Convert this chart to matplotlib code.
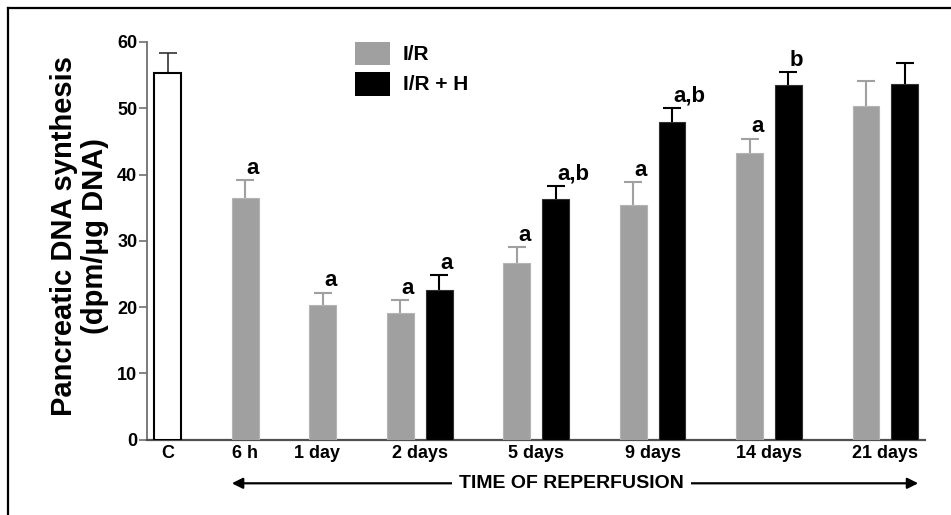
import matplotlib
matplotlib.use("Agg")
import matplotlib.pyplot as plt
import numpy as np
from matplotlib.patches import Rectangle
from matplotlib.lines import Line2D
import matplotlib.transforms as mtransforms

plt.rcParams['font.family'] = ['Liberation Sans', 'DejaVu Sans']
plt.rcParams['font.weight'] = 'bold'

# control group
ctrl_label = 'C'
ctrl_mean = 55.3
ctrl_err = 3.1

# reperfusion time points
times = ['6 h', '1 day', '2 days', '5 days', '9 days', '14 days', '21 days']
ir_mean = [36.4, 20.3, 19.1, 26.7, 35.4, 43.3, 50.3]
ir_err = [2.8, 1.9, 1.9, 2.4, 3.5, 2.1, 3.8]
irh_mean = [None, None, 22.6, 36.3, 47.9, 53.5, 53.6]
irh_err = [None, None, 2.2, 2.0, 2.2, 1.9, 3.2]
ir_sig = ['a', 'a', 'a', 'a', 'a', 'a', '']
irh_sig = ['', '', 'a', 'a,b', 'a,b', 'b', '']

GRAY = '#a0a0a0'
BW = 0.69
CAP = 6.5

fig = plt.figure(figsize=(9.51, 5.15), dpi=100)
ax = fig.add_axes([147/951, 75.3/515, 778/951, 397.8/515])

# lay out slots: single bar per group takes 2 slots, pairs take 3
ir_x, irh_x, tick_x = [], [], []
pos = 2
for m in irh_mean:
    ir_x.append(pos)
    if m is None:
        tick_x.append(pos)
        pos += 2
    else:
        irh_x.append(pos + 1)
        tick_x.append(pos + 0.5)
        pos += 3
tick_x[1] -= 0.15

# error bars are symmetric, the lower half is hidden behind the bars
# control bar
ax.bar(0, ctrl_mean, BW, color='white', edgecolor='black', linewidth=1.5, zorder=3)
ax.errorbar(0, ctrl_mean, yerr=ctrl_err, fmt='none', ecolor='#222222',
            elinewidth=1.1, capsize=CAP, capthick=1.1, zorder=2)

# I/R bars
ax.bar(ir_x, ir_mean, BW, color=GRAY, edgecolor='#b4b4b4', linewidth=0.8, zorder=3)
ax.errorbar(ir_x, ir_mean, yerr=ir_err, fmt='none',
            ecolor=GRAY, elinewidth=1.5, capsize=CAP, capthick=1.5, zorder=2)

# I/R + H bars
h_mean = [m for m in irh_mean if m is not None]
h_err = [e for e in irh_err if e is not None]
ax.bar(irh_x, h_mean, BW, color='black', edgecolor='#303030', linewidth=0.8, zorder=3)
ax.errorbar(irh_x, h_mean, yerr=h_err, fmt='none',
            ecolor='black', elinewidth=1.5, capsize=CAP, capthick=1.5, zorder=2)

# significance letters
for x, m, e, s in zip(ir_x, ir_mean, ir_err, ir_sig):
    if s:
        ax.annotate(s, (x, m + e), xytext=(1, 4.5), textcoords='offset points',
                    ha='left', va='baseline', fontsize=16, fontweight='bold')
h_sig = [s for s, m in zip(irh_sig, irh_mean) if m is not None]
for x, m, e, s in zip(irh_x, h_mean, h_err, h_sig):
    if s:
        ax.annotate(s, (x, m + e), xytext=(1, 4.5), textcoords='offset points',
                    ha='left', va='baseline', fontsize=16, fontweight='bold')

ax.set_xlim(-0.532, 19.52)
ax.set_ylim(0, 60)
ax.set_yticks([0, 10, 20, 30, 40, 50, 60])
ax.set_xticks([0] + tick_x)
ax.set_xticklabels([ctrl_label] + times)
ax.tick_params(axis='x', length=0, pad=4, labelsize=13)
ax.tick_params(axis='y', length=6, width=1.2, color='#707070', pad=1, labelsize=13)
for lab in ax.get_xticklabels() + ax.get_yticklabels():
    lab.set_fontweight('bold')
for side in ['top', 'right']:
    ax.spines[side].set_visible(False)
ax.spines['left'].set_color('#707070')
ax.spines['left'].set_linewidth(1.3)
ax.spines['bottom'].set_color('#505050')
ax.spines['bottom'].set_linewidth(1.6)

# time-of-reperfusion arrow under the axis
tr = mtransforms.blended_transform_factory(ax.transData, ax.transAxes)
left_end = ir_x[0] - BW / 2
right_end = irh_x[-1] + BW / 2
ax.annotate('', xy=(left_end, -0.1096), xytext=(right_end, -0.1096), xycoords=tr,
            textcoords=tr, annotation_clip=False,
            arrowprops=dict(arrowstyle='<|-|>', color='black', lw=1.6,
                            mutation_scale=16, shrinkA=0, shrinkB=0))
ax.text(10.4, -0.1096, 'TIME OF REPERFUSION', transform=tr, ha='center', va='center',
        fontsize=14, fontweight='bold', clip_on=False,
        bbox=dict(facecolor='white', edgecolor='none', pad=5))

# y label
fig.text(79.5/951, 1 - 236/515, 'Pancreatic DNA synthesis\n(dpm/μg DNA)', rotation=90,
         ha='center', va='center', ma='center', fontsize=21, fontweight='bold',
         linespacing=1.12)

# legend
fig.patches.append(Rectangle((355/951, 1 - 65/515), 35/951, 22.7/515,
                             transform=fig.transFigure, facecolor=GRAY, edgecolor='none'))
fig.patches.append(Rectangle((355/951, 1 - 95.7/515), 35/951, 23.4/515,
                             transform=fig.transFigure, facecolor='black', edgecolor='none'))
fig.text(403/951, 1 - 54/515, 'I/R', ha='left', va='center', fontsize=15, fontweight='bold')
fig.text(403/951, 1 - 84/515, 'I/R + H', ha='left', va='center', fontsize=15,
         fontweight='bold')

# frame lines on top and left edges
fig.lines.append(Line2D([8.3/951, 1], [1 - 8.3/515, 1 - 8.3/515], transform=fig.transFigure,
                        color='black', lw=1.6))
fig.lines.append(Line2D([8.3/951, 8.3/951], [0, 1 - 8.3/515], transform=fig.transFigure,
                        color='black', lw=1.6))

fig.savefig('out.png', dpi=100)
